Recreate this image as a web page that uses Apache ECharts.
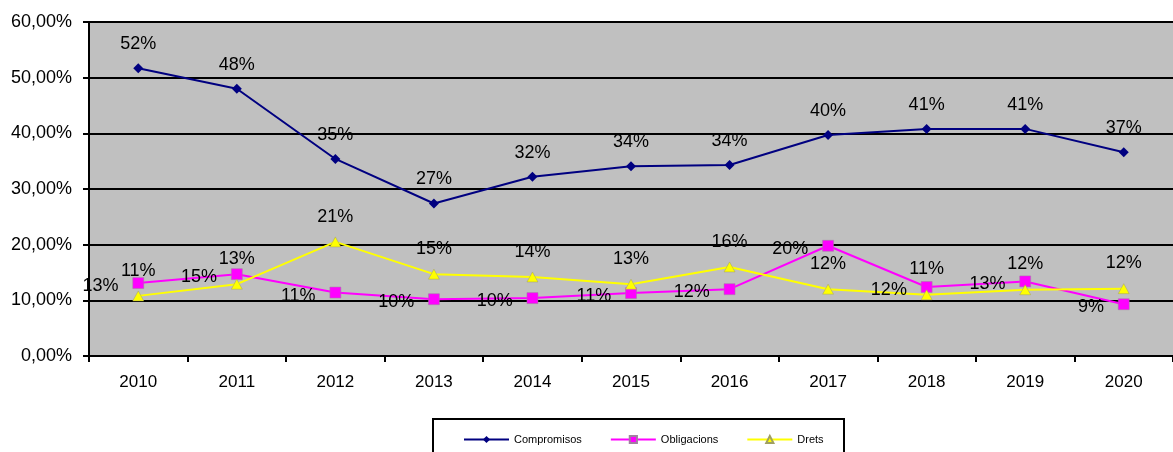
<!DOCTYPE html>
<html>
<head>
<meta charset="utf-8">
<script src="https://cdn.jsdelivr.net/npm/echarts@6/dist/echarts.min.js"></script>
<style>
html,body{margin:0;padding:0;background:#fff;}
#chart{width:1173px;height:452px;}
</style>
</head>
<body>
<div id="chart"></div>
<script>
var years = ['2010','2011','2012','2013','2014','2015','2016','2017','2018','2019','2020'];
var compromisos = [51.7, 48.0, 35.4, 27.4, 32.2, 34.1, 34.3, 39.7, 40.8, 40.8, 36.6];
var obligacions = [13.1, 14.7, 11.4, 10.2, 10.4, 11.3, 12.0, 19.8, 12.4, 13.4, 9.3];
var drets = [10.8, 12.9, 20.5, 14.7, 14.2, 12.9, 16.0, 12.0, 11.0, 11.9, 12.1];
var seriesNames = ['Compromisos', 'Obligacions', 'Drets'];

var FONT = 'Liberation Sans, Arial, sans-serif';
var chart = echarts.init(document.getElementById('chart'));
function pctLabel(p){ return Math.round(p.value) + '%'; }
var labelStyle = {show:true, color:'#000', fontSize:18, fontFamily:FONT, formatter:pctLabel};

chart.setOption({
  animation:false,
  backgroundColor:'#fff',
  textStyle:{fontFamily:FONT},
  graphic:[{
    type:'rect', left:432, top:418, z:-1,
    shape:{width:411, height:40},
    style:{fill:'#fff', stroke:'#000', lineWidth:2}
  }],
  legend:{
    data:seriesNames,
    left:458, top:429,
    itemWidth:45, itemHeight:9, itemGap:28,
    textStyle:{fontSize:11, color:'#000', fontFamily:FONT}
  },
  grid:{left:89, top:22, width:1089, height:334, backgroundColor:'#C0C0C0', show:true, borderWidth:0},
  xAxis:{
    type:'category', data:years, boundaryGap:true,
    axisLine:{lineStyle:{color:'#000', width:2}},
    axisTick:{show:true, length:6, lineStyle:{color:'#000', width:2}},
    axisLabel:{color:'#000', fontSize:17, margin:18, fontFamily:FONT}
  },
  yAxis:{
    type:'value', min:0, max:60, interval:10,
    axisLine:{show:true, lineStyle:{color:'#000', width:2}},
    axisTick:{show:true, length:6, lineStyle:{color:'#000', width:2}},
    splitLine:{show:true, lineStyle:{color:'#000', width:2}},
    axisLabel:{color:'#000', fontSize:18, margin:17, fontFamily:FONT,
      formatter:function(v){ return v.toFixed(2).replace('.', ',') + '%'; }}
  },
  series:[
    {name:seriesNames[0], type:'line', data:compromisos,
     symbol:'diamond', symbolSize:10,
     lineStyle:{color:'#000080', width:2}, itemStyle:{color:'#000080'},
     label:Object.assign({}, labelStyle, {position:'top', distance:10})},
    {name:seriesNames[1], type:'line', data:obligacions,
     symbol:'rect', symbolSize:11,
     lineStyle:{color:'#FF00FF', width:2}, itemStyle:{color:'#FF00FF', borderColor:'#a080a0', borderWidth:0.5},
     label:Object.assign({}, labelStyle, {position:'left', distance:14, offset:[0,3]})},
    {name:seriesNames[2], type:'line', data:drets,
     symbol:'triangle', symbolSize:[11,10],
     lineStyle:{color:'#FFFF00', width:2}, itemStyle:{color:'#FFFF00', borderColor:'#a0a060', borderWidth:0.5},
     label:Object.assign({}, labelStyle, {position:'top', distance:11})}
  ]
});
</script>
</body>
</html>
